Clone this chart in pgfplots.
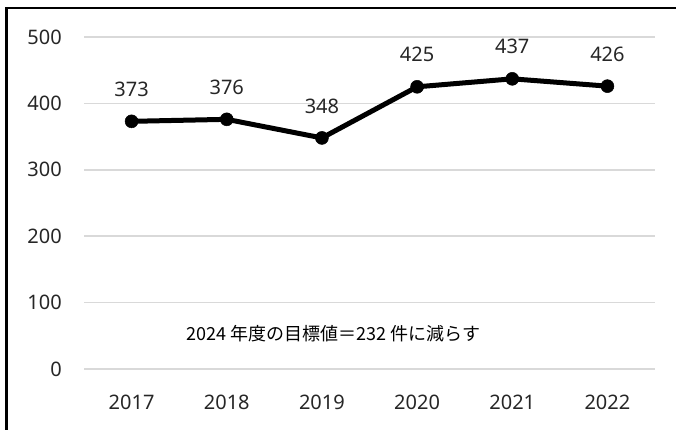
\documentclass[border=0pt]{standalone}
\usepackage{pgfplots}
\pgfplotsset{compat=1.18}
\usepackage{fontspec}
\setmainfont{Noto Sans}
\newfontfamily\jp{Noto Sans CJK JP}
\definecolor{gridgray}{HTML}{D9D9D9}
\begin{document}
\begin{tikzpicture}
\path[use as bounding box] (0pt,0pt) rectangle (676pt,429pt);
\draw[line width=2.7pt] (6.5pt,-2pt) -- (6.5pt,421pt) -- (678pt,421pt);
\begin{axis}[
  at={(84pt,60pt)}, anchor=south west,
  scale only axis, width=571pt, height=332pt,
  xmin=2016.5, xmax=2022.5, ymin=0, ymax=500,
  xtick={2017,2018,2019,2020,2021,2022},
  ytick={0,100,200,300,400,500},
  /pgf/number format/.cd, set thousands separator={}, assume math mode=true,
  /pgfplots/.cd,
  axis line style={draw=none},
  major tick length=0pt,
  ymajorgrids, grid style={gridgray, line width=1.5pt},
  tick label style={font=\fontsize{20}{24}\selectfont, text=black!85},
  yticklabel style={inner sep=0pt, anchor=east, xshift=-22pt},
  xticklabel style={inner sep=0pt, anchor=north, yshift=-26pt},
  clip=false,
]
\addplot[black, line width=5pt, mark=*, mark size=6.5pt,
  mark options={fill=black, draw=black, line width=0.5pt},
  nodes near coords,
  every node near coord/.append style={anchor=center, yshift=32pt, font=\fontsize{20}{24}\selectfont, text=black!85}]
  coordinates {(2017,373) (2018,376) (2019,348) (2020,425) (2021,437) (2022,426)};
\node[font=\jp\fontsize{18}{22}\selectfont, text=black] at (axis cs:2019.12,54) {2024 年度の目標値＝232 件に減らす};
\end{axis}
\end{tikzpicture}
\end{document}
